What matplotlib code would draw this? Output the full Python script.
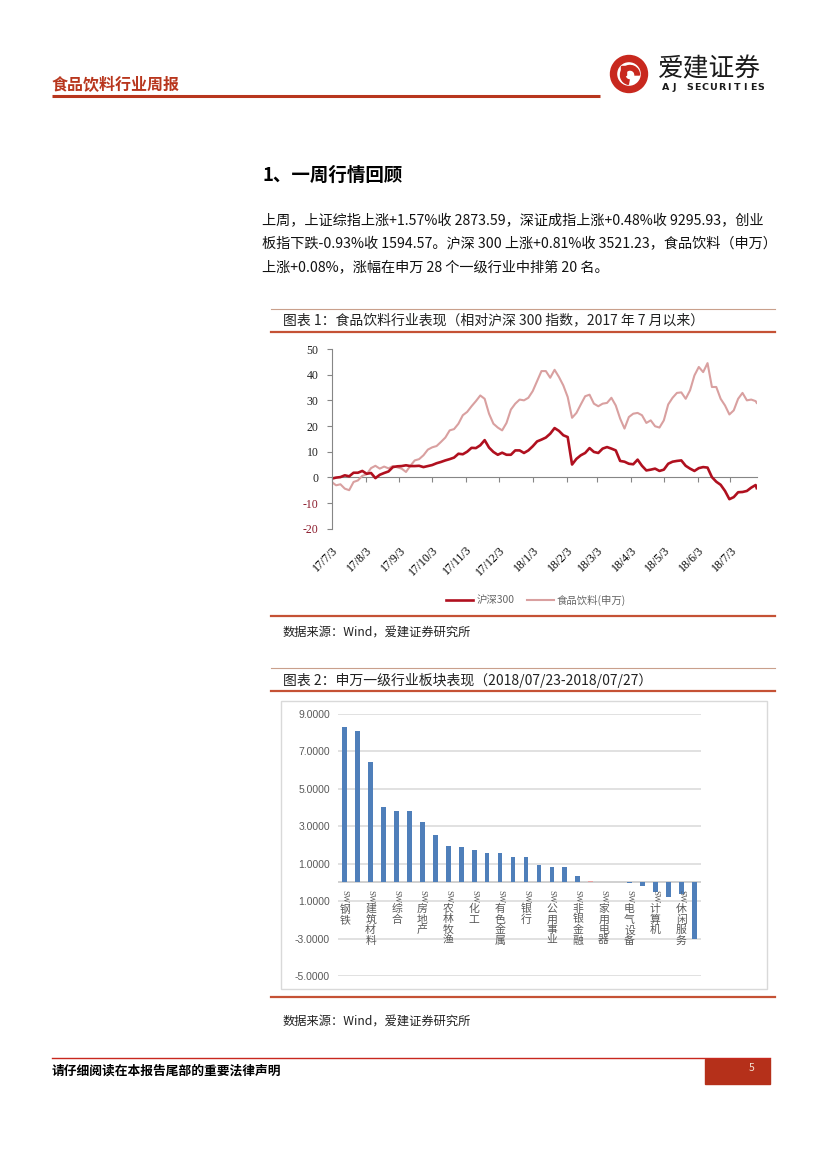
import matplotlib
matplotlib.use("Agg")
import matplotlib.pyplot as plt
from matplotlib.patches import Rectangle, Wedge
import pandas as pd

plt.rcParams['font.family'] = ['Noto Sans CJK SC', 'DejaVu Sans']

# --- chart 1: relative performance since 2017-07 ---
dates = [
    '2017-07-03', '2017-07-07', '2017-07-11', '2017-07-15', '2017-07-19', '2017-07-23',
    '2017-07-27', '2017-07-31', '2017-08-04', '2017-08-08', '2017-08-12', '2017-08-16',
    '2017-08-20', '2017-08-24', '2017-08-28', '2017-09-01', '2017-09-05', '2017-09-09',
    '2017-09-13', '2017-09-17', '2017-09-21', '2017-09-25', '2017-09-29', '2017-10-03',
    '2017-10-07', '2017-10-11', '2017-10-15', '2017-10-19', '2017-10-23', '2017-10-27',
    '2017-10-31', '2017-11-04', '2017-11-08', '2017-11-12', '2017-11-16', '2017-11-20',
    '2017-11-24', '2017-11-28', '2017-12-02', '2017-12-06', '2017-12-10', '2017-12-14',
    '2017-12-18', '2017-12-22', '2017-12-26', '2017-12-30', '2018-01-03', '2018-01-07',
    '2018-01-11', '2018-01-15', '2018-01-19', '2018-01-23', '2018-01-27', '2018-01-31',
    '2018-02-04', '2018-02-08', '2018-02-12', '2018-02-16', '2018-02-20', '2018-02-24',
    '2018-02-28', '2018-03-04', '2018-03-08', '2018-03-12', '2018-03-16', '2018-03-20',
    '2018-03-24', '2018-03-28', '2018-04-01', '2018-04-05', '2018-04-09', '2018-04-13',
    '2018-04-17', '2018-04-21', '2018-04-25', '2018-04-29', '2018-05-03', '2018-05-07',
    '2018-05-11', '2018-05-15', '2018-05-19', '2018-05-23', '2018-05-27', '2018-05-31',
    '2018-06-04', '2018-06-08', '2018-06-12', '2018-06-16', '2018-06-20', '2018-06-24',
    '2018-06-28', '2018-07-02', '2018-07-06', '2018-07-10', '2018-07-14', '2018-07-18',
    '2018-07-22', '2018-07-26', '2018-07-27',
]
hs300 = [
    -0.5, -0.1, 0.1, 0.8, 0.4, 1.8, 1.8, 2.5, 1.4, 1.7, -0.3, 1.0,
    1.7, 2.3, 4.0, 4.3, 4.4, 4.7, 4.4, 4.4, 4.5, 4.0, 4.4, 4.8,
    5.5, 6.0, 6.6, 7.1, 7.7, 9.2, 9.0, 10.0, 11.5, 11.4, 12.5, 14.5,
    11.6, 9.9, 8.8, 9.6, 8.8, 8.8, 10.5, 10.5, 9.5, 10.5, 12.1, 14.0,
    14.7, 15.5, 17.0, 19.2, 18.1, 16.4, 15.7, 5.0, 7.2, 8.6, 9.5, 11.4,
    9.9, 9.5, 11.2, 11.8, 11.2, 10.5, 6.4, 6.1, 5.3, 5.1, 6.9, 4.5,
    2.7, 3.0, 3.4, 2.5, 3.0, 5.3, 6.1, 6.4, 6.6, 4.5, 3.4, 2.5,
    3.6, 4.0, 3.8, 0.1, -1.7, -2.9, -5.3, -8.5, -7.7, -5.8, -5.7, -5.3,
    -4.0, -3.0, -4.2,
]
food_bev = [
    -1.8, -3.1, -2.7, -4.4, -5.0, -1.8, -1.2, 0.6, 1.2, 3.6, 4.5, 3.4,
    4.2, 3.5, 4.4, 3.9, 3.4, 2.1, 4.5, 6.6, 7.1, 8.6, 10.8, 11.7,
    12.2, 13.8, 15.5, 18.3, 18.8, 20.9, 24.2, 25.5, 27.7, 29.7, 31.9, 30.6,
    24.8, 20.9, 19.4, 18.3, 21.2, 26.4, 28.7, 30.3, 30.0, 31.0, 33.6, 37.5,
    41.4, 41.4, 38.8, 41.9, 39.1, 35.8, 31.3, 23.2, 25.1, 28.4, 31.6, 32.2,
    28.7, 27.7, 28.7, 29.0, 31.0, 28.0, 22.9, 19.0, 23.5, 24.8, 25.1, 24.2,
    21.2, 22.2, 19.9, 19.4, 22.2, 28.4, 31.0, 32.9, 33.1, 30.6, 33.9, 39.7,
    43.0, 41.0, 44.5, 35.2, 35.2, 30.6, 28.0, 24.5, 26.1, 30.6, 32.9, 30.0,
    30.3, 29.7, 29.0,
]
series_names = ['沪深300', '食品饮料(申万)']
month_ticks = ['2017-07-03', '2017-08-03', '2017-09-03', '2017-10-03', '2017-11-03',
               '2017-12-03', '2018-01-03', '2018-02-03', '2018-03-03', '2018-04-03',
               '2018-05-03', '2018-06-03', '2018-07-03']
y1_ticks = [-20, -10, 0, 10, 20, 30, 40, 50]

# --- chart 2: SW level-1 industries, 2018/07/23-2018/07/27 ---
sw_values = [8.32, 8.11, 6.45, 4.04, 3.80, 3.80, 3.21, 2.54, 1.95, 1.89, 1.71, 1.57,
             1.57, 1.36, 1.36, 0.93, 0.82, 0.82, 0.34, 0.08, 0.02, 0.01, -0.02, -0.21,
             -0.52, -0.79, -0.62, -3.00]
sw_labels = ['钢铁', '建筑材料', '综合', '房地产', '农林牧渔', '化工', '有色金属',
             '银行', '公用事业', '非银金融', '家用电器', '电气设备', '计算机', '休闲服务']
y2_ticks = [9, 7, 5, 3, 1, -1, -3, -5]
y2_ticklabels = ['9.0000', '7.0000', '5.0000', '3.0000', '1.0000', '1.0000',
                 '-3.0000', '-5.0000']

RED = '#b8361d'
LINE_RED = '#c55235'
GREY_TXT = '#595959'

fig = plt.figure(figsize=(8.27, 11.69), dpi=100)

# page layer in pixel coordinates
page = fig.add_axes([0, 0, 1, 1])
page.set_xlim(0, 827)
page.set_ylim(1169, 0)
page.axis('off')

# header
page.text(52, 85, '食品饮料行业周报', color=RED, fontsize=11.5, fontweight='bold', va='center')
page.plot([52, 600], [96, 96], color=RED, lw=2.2, solid_capstyle='butt')
page.add_patch(Wedge((629, 74), 18.5, 0, 360, width=6, color='#c8281e'))
page.add_patch(Wedge((630, 75), 9.5, 100, 360, width=4.5, color='#c8281e'))
page.add_patch(Rectangle((621, 66), 4.5, 9, color='#c8281e'))
page.text(658, 69, '爱建证券', fontsize=18.5, va='center', color='#1a1a1a')
for k, ch in enumerate('AJ SECURITIES'):
    page.text(666 + k * 7.9, 87, ch, fontsize=6.8, fontweight='bold', va='center',
              ha='center', family='DejaVu Sans', color='#1a1a1a')

# section heading and paragraph
page.text(262, 175, '1、一周行情回顾', fontsize=13.3, fontweight='bold', va='center')
para = ['上周，上证综指上涨+1.57%收 2873.59，深证成指上涨+0.48%收 9295.93，创业',
        '板指下跌-0.93%收 1594.57。沪深 300 上涨+0.81%收 3521.23，食品饮料（申万）',
        '上涨+0.08%，涨幅在申万 28 个一级行业中排第 20 名。']
for i, line in enumerate(para):
    page.text(262, 221 + i * 23.5, line, fontsize=10.2, va='center', color='#111111')

# chart 1 frame
page.plot([271, 775], [309, 309], color='#c9a08c', lw=0.8)
page.text(283, 320, '图表 1：食品饮料行业表现（相对沪深 300 指数，2017 年 7 月以来）',
          fontsize=10, va='center', color='#222222')
page.plot([271, 775], [332, 332], color=LINE_RED, lw=1.6)
page.plot([271, 775], [616, 616], color=LINE_RED, lw=1.6)
page.text(283, 632, '数据来源：Wind，爱建证券研究所', fontsize=8.8, va='center', color='#222222')

# chart 2 frame
page.plot([271, 775], [668, 668], color='#c9a08c', lw=0.8)
page.text(283, 680, '图表 2：申万一级行业板块表现（2018/07/23-2018/07/27）',
          fontsize=10, va='center', color='#222222')
page.plot([271, 775], [691, 691], color=LINE_RED, lw=1.6)
page.add_patch(Rectangle((281, 701), 486, 288, fill=False, edgecolor='#d9d9d9', lw=1))
page.plot([271, 775], [997, 997], color=LINE_RED, lw=1.6)
page.text(283, 1021, '数据来源：Wind，爱建证券研究所', fontsize=8.8, va='center', color='#222222')

# footer
page.plot([52, 770], [1058, 1058], color='#c8281e', lw=1)
page.text(52, 1071, '请仔细阅读在本报告尾部的重要法律声明', fontsize=9.2,
          fontweight='bold', va='center')
page.add_patch(Rectangle((705, 1059), 65, 25, color='#b5301a'))
page.text(752, 1068, '5', fontsize=7.5, va='center', ha='center', color='#f2e0d0')

# --- chart 1 ---
ax1 = fig.add_axes([331.7 / 827, 1 - 528.7 / 1169, 425 / 827, 179.7 / 1169])
ax1.set_facecolor('none')
dt = pd.to_datetime(dates)
ln_food, = ax1.plot(dt, food_bev, color='#d9a0a0', lw=1.5)
ln_hs, = ax1.plot(dt, hs300, color='#b0101f', lw=1.9)
ax1.set_xlim(pd.Timestamp('2017-07-03'), pd.Timestamp('2018-07-27'))
ax1.set_ylim(-20, 50)
ax1.set_yticks(y1_ticks)
ax1.set_yticklabels([str(v) for v in y1_ticks], family='Liberation Serif', fontsize=8.5)
for lab, v in zip(ax1.get_yticklabels(), y1_ticks):
    lab.set_color('#8b1a2b' if v < 0 else '#222222')
ax1.tick_params(axis='y', length=3.5, color='#868686', width=0.8, pad=6)
ticks = pd.to_datetime(month_ticks)
ax1.set_xticks(ticks)
ax1.set_xticklabels([f"{d.year % 100}/{d.month}/{d.day}" for d in ticks],
                    family='Liberation Serif', fontsize=8.5, rotation=45,
                    ha='right', va='top', rotation_mode='anchor')
ax1.tick_params(axis='x', length=0, pad=11)
for s in ['top', 'right', 'bottom']:
    ax1.spines[s].set_visible(False)
ax1.spines['left'].set_color('#868686')
ax1.spines['left'].set_linewidth(0.8)

zero_axis = ax1.secondary_xaxis(20 / 70)
zero_axis.set_xticks(ticks)
zero_axis.xaxis.set_ticks_position('bottom')
zero_axis.tick_params(axis='x', direction='out', length=3.5, color='#868686', width=0.8,
                      labelbottom=False, labeltop=False)
zero_axis.spines['top'].set_visible(False)
zero_axis.spines['bottom'].set_color('#868686')
zero_axis.spines['bottom'].set_linewidth(0.8)

fig.legend([ln_hs, ln_food], series_names, loc='center', ncol=2, frameon=False,
           bbox_to_anchor=(536 / 827, 1 - 600 / 1169), fontsize=7.5, handlelength=2.6,
           columnspacing=1.2, handletextpad=0.3, labelcolor='#666666')

# --- chart 2 ---
ax2 = fig.add_axes([338.3 / 827, 1 - 976 / 1169, 362.4 / 827, 262 / 1169])
ax2.set_facecolor('none')
bar_colors = ['#4f7fba'] * len(sw_values)
bar_colors[19] = '#e8a0a0'
ax2.bar(range(len(sw_values)), sw_values, width=0.36, color=bar_colors, zorder=3)
ax2.set_xlim(-0.5, len(sw_values) - 0.5)
ax2.set_ylim(-5, 9)
ax2.set_yticks(y2_ticks)
ax2.set_yticklabels(y2_ticklabels, family='Liberation Sans', fontsize=7.5, color=GREY_TXT)
ax2.tick_params(axis='y', length=0, pad=6)
ax2.set_xticks([])
ax2.grid(axis='y', color='#d9d9d9', lw=1.1, zorder=0)
ax2.axhline(0, color='#c4c4c4', lw=1.1, zorder=2)
for s in ax2.spines.values():
    s.set_visible(False)

# every other category label, "SW" turned on its side, the name stacked below
for i, name in enumerate(sw_labels):
    x = 2 * i
    ax2.annotate('SW', xy=(x, 0), xytext=(0, -5.5), textcoords='offset points',
                 rotation=270, ha='center', va='top', fontsize=6.3,
                 family='Liberation Serif', color=GREY_TXT, zorder=4)
    ax2.annotate('\n'.join(name), xy=(x, 0), xytext=(0, -15.5), textcoords='offset points',
                 ha='center', va='top', fontsize=7.8, linespacing=1.05,
                 color=GREY_TXT, zorder=4)

fig.savefig('out.png', dpi=100)
